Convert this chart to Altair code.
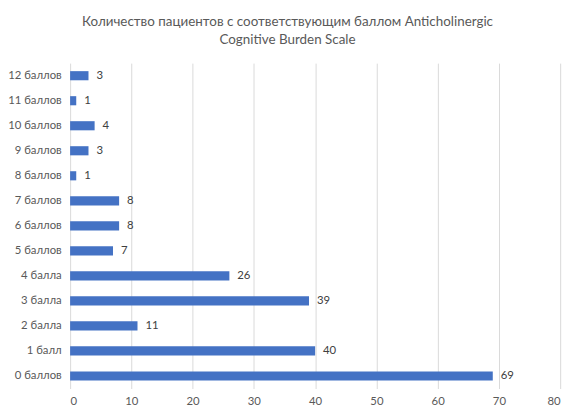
import altair as alt
import pandas as pd

categories = ["0 баллов", "1 балл", "2 балла", "3 балла", "4 балла", "5 баллов",
              "6 баллов", "7 баллов", "8 баллов", "9 баллов", "10 баллов",
              "11 баллов", "12 баллов"]
counts = [69, 40, 11, 39, 26, 7, 8, 8, 1, 3, 4, 1, 3]
x_ticks = [0, 10, 20, 30, 40, 50, 60, 70, 80]

df = pd.DataFrame({"cat": categories, "n": counts})
order = list(reversed(categories))

FONT = "Lato"
GREY = "#595959"

base = alt.Chart(df).encode(
    y=alt.Y("cat:N", sort=order, title=None,
            scale=alt.Scale(paddingInner=0.635, paddingOuter=0.32),
            axis=alt.Axis(ticks=False, domain=False, labelPadding=9,
                          labelFontSize=11.5, labelColor=GREY, labelFont=FONT,
                          grid=False))
)

bars = base.mark_bar(color="#4472C4").encode(
    x=alt.X("n:Q", title=None,
            scale=alt.Scale(domain=[0, 80], nice=False),
            axis=alt.Axis(values=x_ticks, ticks=False, domain=False,
                          labelPadding=7, labelFontSize=11.5, labelColor=GREY,
                          labelFont=FONT, grid=True, gridColor="#d9d9d9"))
)

labels = base.mark_text(align="left", dx=8, fontSize=11.5, color="#404040",
                        font=FONT).encode(
    x="n:Q",
    text="n:Q"
)

chart = alt.layer(bars, labels).properties(
    width=497,
    height=330,
    autosize=alt.AutoSizeParams(type="none"),
    padding={"left": 63, "top": 53, "right": 11, "bottom": 29},
    title=alt.TitleParams(
        text=["Количество пациентов с соответствующим баллом Anticholinergic",
              "Cognitive Burden Scale"],
        fontSize=13.6, font=FONT, fontWeight="normal", color=GREY,
        anchor="middle", dx=-28, offset=17, lineHeight=18
    )
).configure_view(stroke=None)

chart.save("out.html", embed_options={"renderer": "svg", "actions": False})
